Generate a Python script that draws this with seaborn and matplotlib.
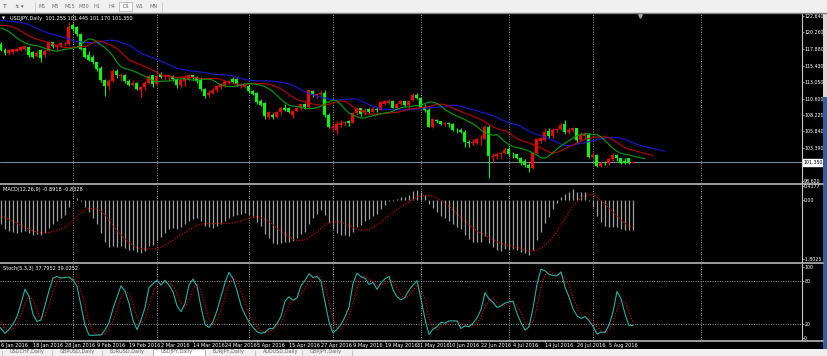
import numpy as np
import pandas as pd
import matplotlib
matplotlib.use("Agg")
import matplotlib.pyplot as plt
from matplotlib.patches import Rectangle
from matplotlib.lines import Line2D
import seaborn as sns

# daily USDJPY candles, 4 Jan 2016 .. 15 Aug 2016 (one value per trading day)
open_ = [120.20, 119.40, 118.60, 117.70, 117.20, 117.40, 117.60, 117.70, 117.90, 118.10,
         117.40, 116.80, 117.70, 116.90, 117.60, 118.80, 118.10, 118.40, 118.50, 118.60,
         121.30, 121.00, 120.00, 118.00, 116.90, 116.70, 115.90, 115.10, 113.30, 112.40,
         113.20, 114.60, 113.90, 114.10, 113.20, 112.60, 112.90, 111.90, 112.30, 112.90,
         114.00, 112.70, 114.20, 113.70, 113.70, 113.90, 113.40, 112.60, 113.20, 113.50,
         114.00, 113.80, 113.30, 112.00, 111.10, 111.50, 111.90, 112.30, 112.60, 113.00,
         113.50, 113.50, 112.40, 112.30, 112.50, 111.70, 111.50, 110.30, 110.00, 107.90,
         108.30, 108.00, 108.60, 109.30, 109.20, 108.20, 108.80, 109.30, 109.90, 109.40,
         111.70, 111.00, 111.30, 111.50, 108.30, 106.30, 106.10, 106.80, 107.10, 107.30,
         107.10, 108.50, 109.20, 108.50, 109.10, 108.70, 109.10, 109.00, 109.90, 110.00,
         110.20, 109.20, 109.90, 110.20, 109.70, 110.40, 111.20, 110.70, 109.40, 108.90,
         106.50, 107.50, 107.30, 106.90, 107.00, 106.90, 106.10, 106.00, 105.80, 104.30,
         104.10, 104.20, 104.70, 104.80, 106.50, 102.10, 102.20, 102.50, 102.70, 103.30,
         102.60, 102.50, 101.90, 101.50, 101.00, 100.50, 102.70, 104.40, 104.60, 105.90,
         105.10, 106.10, 106.20, 106.90, 105.80, 106.10, 106.30, 104.60, 105.10, 105.30,
         102.10, 102.40, 100.80, 101.30, 101.20, 101.80, 102.40, 101.90, 101.60, 101.90,
         101.255]
high = [120.70, 119.70, 118.90, 118.00, 117.90, 117.90, 118.00, 118.30, 118.40, 118.20,
        117.60, 117.60, 117.90, 117.80, 118.90, 118.90, 118.50, 118.90, 118.90, 121.70,
        121.60, 121.20, 120.10, 118.10, 117.50, 117.00, 116.00, 115.30, 113.50, 113.40,
        114.90, 114.90, 114.40, 114.20, 113.40, 113.30, 113.10, 112.50, 113.20, 114.10,
        114.10, 114.00, 114.50, 114.20, 114.10, 114.00, 113.60, 113.50, 114.10, 114.20,
        114.10, 113.90, 113.70, 112.20, 111.90, 112.20, 112.60, 112.90, 113.30, 113.30,
        113.80, 113.60, 112.90, 112.90, 112.70, 111.90, 111.60, 110.60, 110.10, 108.80,
        108.50, 108.80, 109.40, 109.80, 109.40, 109.00, 109.40, 109.90, 110.00, 111.90,
        111.90, 111.50, 111.80, 111.90, 108.50, 106.90, 107.30, 107.50, 107.40, 107.50,
        108.70, 109.30, 109.30, 109.30, 109.20, 109.50, 109.40, 110.30, 110.40, 110.60,
        110.40, 110.00, 110.40, 110.20, 110.40, 111.40, 111.40, 110.80, 109.80, 109.30,
        107.70, 107.70, 107.40, 107.20, 107.20, 107.00, 106.40, 106.30, 106.00, 104.60,
        104.80, 104.90, 105.30, 106.80, 106.80, 102.70, 102.70, 102.90, 103.50, 103.50,
        102.80, 102.60, 102.10, 101.80, 101.20, 102.80, 104.90, 105.00, 106.30, 106.30,
        106.30, 106.40, 107.00, 107.50, 106.40, 106.50, 106.40, 105.70, 105.80, 105.60,
        102.80, 102.60, 101.50, 101.50, 102.00, 102.70, 102.50, 102.00, 101.90, 102.00,
        101.445]
low = [118.70, 118.50, 117.50, 116.90, 117.00, 117.10, 117.40, 117.50, 117.60, 116.60,
       116.50, 116.60, 115.90, 116.60, 117.50, 118.00, 117.60, 118.10, 118.20, 118.40,
       120.50, 119.80, 117.70, 116.50, 116.10, 115.70, 114.60, 113.10, 110.99, 111.90,
       113.10, 113.60, 113.20, 112.90, 112.40, 112.40, 111.80, 110.90, 111.90, 112.70,
       112.30, 112.60, 113.60, 113.30, 113.20, 113.20, 112.20, 112.30, 112.40, 113.30,
       113.50, 112.90, 111.70, 110.70, 110.80, 111.30, 111.60, 112.00, 112.30, 112.80,
       112.90, 112.50, 112.10, 112.10, 111.40, 111.10, 109.90, 109.50, 107.60, 107.60,
       107.60, 107.80, 108.30, 108.80, 108.50, 107.80, 108.60, 109.00, 109.10, 109.30,
       110.90, 110.70, 110.90, 107.90, 106.30, 105.90, 105.50, 106.50, 106.60, 106.60,
       107.00, 108.30, 108.10, 108.20, 108.50, 108.60, 108.60, 108.90, 109.70, 109.80,
       109.20, 109.10, 109.70, 109.50, 109.30, 110.30, 110.60, 109.20, 108.60, 106.50,
       106.30, 107.00, 106.70, 106.60, 106.50, 105.90, 105.60, 105.60, 103.60, 103.50,
       103.80, 104.00, 103.90, 104.70, 99.00, 101.40, 101.80, 102.00, 102.50, 102.30,
       101.90, 101.80, 100.90, 100.70, 99.90, 100.40, 102.50, 104.10, 104.40, 104.90,
       104.90, 105.70, 106.00, 105.50, 105.40, 105.70, 104.20, 104.40, 104.80, 101.90,
       101.90, 100.70, 100.70, 100.90, 100.90, 101.60, 101.50, 101.10, 101.10, 101.10,
       101.170]
close = [119.40, 118.60, 117.70, 117.20, 117.70, 117.80, 117.80, 118.10, 118.20, 116.90,
         116.70, 117.30, 116.50, 117.60, 118.80, 118.30, 118.40, 118.70, 118.60, 121.10,
         120.80, 120.00, 117.90, 116.70, 116.30, 115.90, 114.90, 113.30, 112.40, 113.20,
         114.60, 114.00, 114.10, 113.20, 112.60, 112.90, 112.00, 112.30, 112.90, 113.90,
         112.70, 113.90, 113.80, 113.90, 114.00, 113.40, 112.60, 113.30, 113.70, 114.00,
         113.80, 113.20, 112.00, 111.00, 111.50, 111.90, 112.40, 112.70, 113.10, 113.20,
         113.00, 112.70, 112.60, 112.60, 111.70, 111.30, 110.10, 109.70, 108.10, 108.60,
         107.90, 108.60, 109.20, 109.00, 108.60, 108.80, 109.30, 109.80, 109.40, 111.80,
         111.20, 111.30, 111.40, 108.20, 106.50, 106.50, 106.90, 107.10, 107.20, 107.10,
         108.50, 109.20, 108.40, 109.00, 108.60, 109.10, 109.00, 110.10, 110.20, 110.20,
         109.30, 109.90, 110.20, 109.70, 110.30, 111.10, 110.70, 109.40, 108.90, 106.50,
         107.60, 107.30, 106.90, 107.00, 106.90, 106.10, 106.00, 105.70, 104.30, 104.10,
         104.30, 104.70, 104.80, 106.50, 102.20, 102.30, 102.60, 102.70, 103.20, 102.50,
         102.50, 101.90, 101.40, 100.90, 100.50, 102.70, 104.70, 104.90, 105.70, 105.20,
         106.10, 106.20, 106.80, 105.80, 106.10, 106.30, 104.60, 105.30, 105.40, 102.10,
         102.40, 100.80, 101.30, 101.20, 101.80, 102.40, 101.90, 101.20, 101.30, 101.30,
         101.350]

jaw_start, jaw_seed = 122.0, 121.7
teeth_start, teeth_seed = 121.3, 121.2
lips_seed = 120.9
ema12_seed, ema26_seed, signal_seed = 120.6, 121.0, -0.45

date_ticks = list(range(2, 160, 8))
date_labels = ["6 Jan 2016", "18 Jan 2016", "28 Jan 2016", "9 Feb 2016", "19 Feb 2016",
               "2 Mar 2016", "14 Mar 2016", "24 Mar 2016", "5 Apr 2016", "15 Apr 2016",
               "27 Apr 2016", "9 May 2016", "19 May 2016", "31 May 2016", "10 Jun 2016",
               "22 Jun 2016", "4 Jul 2016", "14 Jul 2016", "26 Jul 2016", "5 Aug 2016"]
month_bars = [20, 41, 64, 85, 107, 129, 150, 177]
price_ticks = [122.640, 120.260, 117.880, 115.430, 113.050, 110.600, 108.220,
               105.840, 103.390, 100.960, 98.620]
tab_names = ["USDCHF,Daily", "GBPUSD,Daily", "EURUSD,Daily", "USDJPY,Daily",
             "EURJPY,Daily", "AUDUSD,Daily", "GBPJPY,Daily"]

df = pd.DataFrame({"o": open_, "h": high, "l": low, "c": close})
df["bar"] = np.arange(len(df))


def smma(values, period, seed):
    out, s = [], seed
    for v in values:
        s = (s * (period - 1) + v) / period
        out.append(s)
    return np.array(out)


# Alligator (median price, smoothed MA 13/8/5 shifted 8/5/3)
median = ((df.h + df.l) / 2).values
jaw = smma(median, 13, jaw_seed)
teeth = smma(median, 8, teeth_seed)
lips = smma(median, 5, lips_seed)
jaw_x = np.r_[2, 7, df.bar + 8]
jaw_y = np.r_[jaw_start, jaw_seed, jaw]
teeth_x = np.r_[2, 4, df.bar + 5]
teeth_y = np.r_[teeth_start, teeth_seed, teeth]
lips_x = np.r_[2, df.bar + 3]
lips_y = np.r_[lips_seed, lips]

ema12 = pd.Series(np.r_[ema12_seed, close]).ewm(span=12, adjust=False).mean().values[1:]
ema26 = pd.Series(np.r_[ema26_seed, close]).ewm(span=26, adjust=False).mean().values[1:]
macd = ema12 - ema26
signal = pd.Series(np.r_[[signal_seed] * 8, macd]).rolling(9).mean().values[8:]

ll = df.l.rolling(5, min_periods=1).min()
hh = df.h.rolling(5, min_periods=1).max()
k = 100 * (df.c - ll).rolling(3, min_periods=1).sum() / (hh - ll).rolling(3, min_periods=1).sum()
d = k.rolling(3, min_periods=1).mean()

sns.set_style("ticks")
plt.rcParams["font.family"] = ["Liberation Sans Narrow", "DejaVu Sans"]
FS = 3.4   # price scale numbers
FL = 3.6   # labels

W, H = 828, 356
fig = plt.figure(figsize=(W / 100, H / 100), dpi=100)
fig.patch.set_facecolor("black")


def fx(px):
    return px / W


def fy(px):
    return 1 - px / H


ax_main = fig.add_axes([0, fy(183), fx(802), 169 / H])
ax_macd = fig.add_axes([0, fy(262), fx(802), 77 / H])
ax_sto = fig.add_axes([0, fy(340), fx(802), 76 / H])

for ax in (ax_main, ax_macd, ax_sto):
    ax.set_facecolor("black")
    ax.set_xlim(1.75, 202.25)
    for s in ("left", "top", "bottom"):
        ax.spines[s].set_visible(False)
    ax.spines["right"].set_color("#c8c8c8")
    ax.spines["right"].set_linewidth(0.8)
    ax.yaxis.tick_right()
    ax.tick_params(axis="y", colors="#c8c8c8", labelcolor="white", labelsize=FS,
                   length=1.2, width=0.5, pad=0.4)
    for b in month_bars:
        ax.axvline(b, color="#9a9a9a", lw=0.7, ls=(0, (1, 1.5)), zorder=0)
    ax.set_xlabel("")
    ax.set_ylabel("")
ax_main.tick_params(axis="x", bottom=False, labelbottom=False)
ax_macd.tick_params(axis="x", bottom=False, labelbottom=False)

# ---- price panel
ax_main.set_ylim(98.33, 122.93)
ax_main.set_yticks(price_ticks)
ax_main.set_yticklabels([f"{p:.3f}" for p in price_ticks])
up = df.c >= df.o
for mask, col in ((up, "#ff0000"), (~up, "#00ff00")):
    sub = df[mask]
    ax_main.vlines(sub.bar, sub.l, sub.h, color=col, lw=0.75, zorder=2)
    ax_main.bar(sub.bar, (sub.c - sub.o).abs().clip(lower=0.04), bottom=np.minimum(sub.o, sub.c),
                width=0.75, color=col, linewidth=0, zorder=3)
sns.lineplot(x=jaw_x, y=jaw_y, ax=ax_main, color="#1818d8", lw=0.8, zorder=4)
sns.lineplot(x=teeth_x, y=teeth_y, ax=ax_main, color="#c00000", lw=0.8, zorder=4)
sns.lineplot(x=lips_x, y=lips_y, ax=ax_main, color="#00a000", lw=0.8, zorder=4)
ax_main.axhline(close[-1], color="#7b8794", lw=0.8, zorder=1)
ax_main.text(1.002, close[-1], f"{close[-1]:.3f}", transform=ax_main.get_yaxis_transform(),
             fontsize=FS, color="black", va="center", ha="left",
             bbox=dict(boxstyle="square,pad=0.2", fc="white", ec="white"), zorder=10,
             clip_on=False)
ax_main.text(0.012, 0.988, "USDJPY,Daily  101.255 101.445 101.170 101.350",
             transform=ax_main.transAxes, fontsize=FL, color="white", va="top")
ax_main.text(0.003, 0.985, "\u25bc", transform=ax_main.transAxes, fontsize=2.8,
             color="white", va="top", family="DejaVu Sans")

# ---- MACD panel
ax_macd.set_ylim(-1.89, 0.45)
ax_macd.set_yticks([0.4177, 0.0, -1.8025])
ax_macd.set_yticklabels(["0.4177", "0.00", "-1.8025"])
ax_macd.vlines(df.bar, 0, macd, color="#a0a0a0", lw=0.9, zorder=2)
sns.lineplot(x=df.bar, y=signal, ax=ax_macd, color="#e00000", lw=0.8, ls=(0, (1, 1.5)), zorder=3)
ax_macd.text(0.004, 0.975, "MACD(12,26,9) -0.8918 -0.8328", transform=ax_macd.transAxes,
             fontsize=FL, color="white", va="top")
ax_macd.set_xlabel("")
ax_macd.set_ylabel("")

# ---- Stochastic panel
ax_sto.set_ylim(-2.8, 104.2)
ax_sto.set_yticks([100, 80, 20, 0])
ax_sto.set_yticklabels(["100", "80", "20", "0"])
for lvl in (20, 80):
    ax_sto.axhline(lvl, color="#9a9a9a", lw=0.7, ls=(0, (1, 1.5)), zorder=0)
sns.lineplot(x=df.bar, y=d, ax=ax_sto, color="#e00000", lw=0.8, ls=(0, (1, 1.5)), zorder=3)
sns.lineplot(x=df.bar, y=k, ax=ax_sto, color="#20b2aa", lw=0.8, zorder=4)
ax_sto.text(0.004, 0.975, "Stoch(5,3,3) 37.7952 39.0252", transform=ax_sto.transAxes,
            fontsize=FL, color="white", va="top")
ax_sto.set_xticks(date_ticks)
ax_sto.set_xticklabels(date_labels, ha="left")
ax_sto.tick_params(axis="x", colors="#c8c8c8", labelcolor="white", labelsize=FL,
                   length=1.5, width=0.5, pad=1)
ax_sto.set_xlabel("")
ax_sto.set_ylabel("")

# ---- window chrome
fig.add_artist(Rectangle((0, fy(12.5)), 1, 12.5 / H, transform=fig.transFigure,
                         fc="#f0f0f0", ec="none"))
fig.add_artist(Line2D([0, 1], [fy(13), fy(13)], transform=fig.transFigure,
                      color="#808080", lw=1.0))
for y in (183.5, 262.7, 340.6):
    fig.add_artist(Line2D([0, fx(823)], [fy(y), fy(y)], transform=fig.transFigure,
                          color="#c8c8c8", lw=1.1))
fig.add_artist(Line2D([fx(640)], [fy(15.5)], transform=fig.transFigure, marker="v",
                      ms=2.5, color="#a0a0a0", ls="none"))
fig.add_artist(Rectangle((fx(823.5), fy(97)), 4.5 / W, 84 / H, transform=fig.transFigure,
                         fc="#d8d8d8", ec="none"))
fig.add_artist(Rectangle((fx(823.5), fy(349)), 4.5 / W, 252 / H, transform=fig.transFigure,
                         fc="#2f5f9f", ec="none"))

# bottom tab strip (tab captions are cut by the screenshot edge)
fig.add_artist(Rectangle((0, 0), 1, 7 / H, transform=fig.transFigure,
                         fc="#f0f0f0", ec="none"))
tab_edges = [2, 52, 102, 153, 205, 255, 302, 352]
fig.add_artist(Rectangle((fx(153), 0), 52 / W, 7 / H, transform=fig.transFigure,
                         fc="white", ec="#a0a0a0", lw=0.4))
for xe in tab_edges:
    fig.add_artist(Line2D([fx(xe), fx(xe)], [0, fy(350)], transform=fig.transFigure,
                          color="#a0a0a0", lw=0.4))
for xe, name in zip(tab_edges[:-1], tab_names):
    fig.text(fx(xe + 8), fy(353.5), name, fontsize=FL, color="#606060", va="bottom")

fig.text(fx(5), fy(6.5), "T", fontsize=4.5, color="#505050", va="center", ha="center")
fig.text(fx(19), fy(6.5), "\u21af \u25be", fontsize=3.8, color="#505050", va="center",
         ha="center", family="DejaVu Sans")
tfs = ["M1", "M5", "M15", "M30", "H1", "H4", "D1", "W1", "MN"]
tf_x = [42, 55, 70, 84, 97, 112, 126, 140, 154]
fig.add_artist(Rectangle((fx(119.5), fy(11)), 13 / W, 9 / H, transform=fig.transFigure,
                         fc="#f8f8f8", ec="#b0b0b0", lw=0.5))
for lab, xp in zip(tfs, tf_x):
    fig.text(fx(xp), fy(6.5), lab, fontsize=FL, color="#707070", va="center", ha="center")
for xp in (35, 162):
    fig.add_artist(Line2D([fx(xp), fx(xp)], [fy(2), fy(11)], transform=fig.transFigure,
                          color="#c0c0c0", lw=0.5))

fig.savefig("out.png", dpi=100, facecolor=fig.get_facecolor())
